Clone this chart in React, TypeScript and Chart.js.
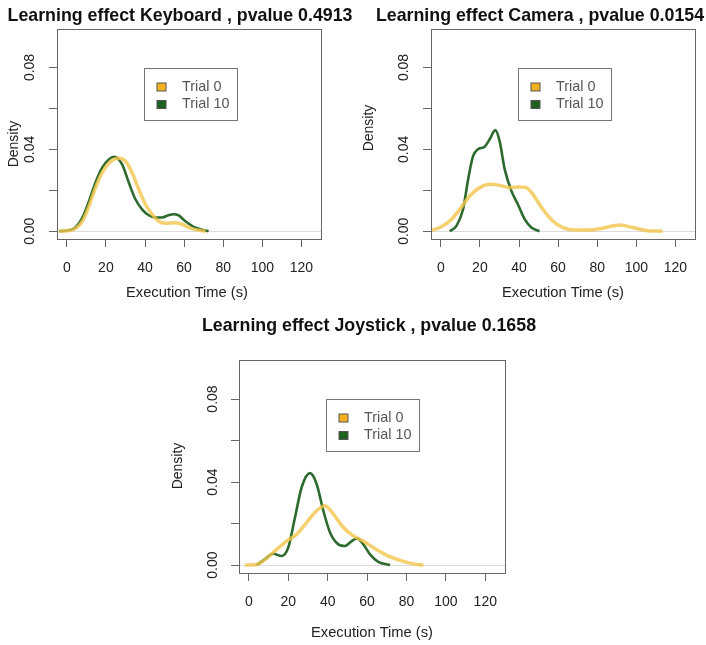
import React, { useEffect, useRef } from 'react';
import { Chart, registerables } from 'chart.js';

Chart.register(...registerables);

// ---------- data ----------
const xTickValues = [0, 20, 40, 60, 80, 100, 120];
const yTickValues = [0, 0.02, 0.04, 0.06, 0.08];
const yTickLabels = ['0.00', '', '0.04', '', '0.08'];
const seriesLabels = ['Trial 0', 'Trial 10'];
const panelTitles = [
  'Learning effect Keyboard , pvalue 0.4913',
  'Learning effect Camera , pvalue 0.0154',
  'Learning effect Joystick , pvalue 0.1658',
];
const xAxisTitle = 'Execution Time (s)';
const yAxisTitle = 'Density';

const keyboardTrial0X = [-4, 3, 8, 11.4, 14.7, 18.1, 21.5, 26.6, 30, 33.4, 36.8, 40.2, 43.6, 46.9, 50.3, 55.4, 58.8, 63.9, 71];
const keyboardTrial0Y = [0, 0.0007, 0.005, 0.0124, 0.0213, 0.0286, 0.0332, 0.0356, 0.0342, 0.0286, 0.0205, 0.0132, 0.0083, 0.005, 0.0039, 0.0042, 0.0034, 0.0013, 0];
const keyboardTrial10X = [-4, 3, 8, 11.4, 14.7, 18.1, 21.5, 24.1, 28.3, 31.7, 35.1, 38.5, 41.9, 45.2, 48.7, 52, 54.6, 57.1, 60.5, 65.6, 72.5];
const keyboardTrial10Y = [0, 0.001, 0.0067, 0.0148, 0.0238, 0.031, 0.0351, 0.0364, 0.0327, 0.0238, 0.0156, 0.0107, 0.0078, 0.0067, 0.0067, 0.0078, 0.0083, 0.0078, 0.005, 0.0018, 0];

const cameraTrial0X = [-5, -0.5, 4.6, 9.7, 14.8, 19.9, 25, 30.1, 35.2, 40.3, 43.7, 47.1, 52.2, 57.3, 62.4, 69.2, 76, 82.8, 91.3, 98.1, 104.9, 113.4];
const cameraTrial0Y = [0.0003, 0.0018, 0.005, 0.0107, 0.0172, 0.0213, 0.0229, 0.0224, 0.0213, 0.0216, 0.0213, 0.018, 0.0107, 0.005, 0.0018, 0.0006, 0.0006, 0.0015, 0.003, 0.0018, 0.0004, 0];
const cameraTrial10X = [4.6, 8, 11.4, 14, 16.5, 19, 22.4, 25, 27.9, 30.1, 32.7, 36.1, 39.4, 42.9, 46.3, 50.5];
const cameraTrial10Y = [0, 0.0026, 0.0107, 0.0254, 0.0367, 0.04, 0.0413, 0.0449, 0.0494, 0.044, 0.0302, 0.0197, 0.0132, 0.0059, 0.0018, 0];

const joystickTrial0X = [-2, 3.9, 9, 14.1, 19.2, 24.3, 29.3, 34.4, 38.6, 42.9, 48, 53, 58.1, 63.2, 70, 76.8, 83.5, 88.6];
const joystickTrial0Y = [0, 0.0003, 0.0032, 0.0076, 0.0116, 0.0149, 0.0205, 0.0262, 0.0286, 0.0246, 0.0181, 0.0141, 0.0116, 0.0084, 0.0047, 0.0023, 0.0006, 0];
const joystickTrial10X = [3.9, 8.1, 12.4, 16.6, 20, 23.4, 26.8, 31, 34.4, 37.8, 41.2, 45.4, 48.8, 52.2, 54.8, 58.1, 61.5, 65.7, 71.7];
const joystickTrial10Y = [0, 0.0028, 0.0055, 0.0044, 0.0084, 0.0229, 0.0375, 0.0443, 0.0391, 0.0262, 0.0157, 0.01, 0.0092, 0.0116, 0.0128, 0.01, 0.0052, 0.0016, 0];

// ---------- styles / layout ----------
const FONT = '"Liberation Sans", Arial, Helvetica, sans-serif';
const W = 706;
const H = 645;
const X_MIN = -5;
const X_MAX = 130;
const Y_MIN = -0.0038;
const Y_MAX = 0.0988;
const TICK_LEN = 8;
const X_AXIS_H = 40;
const LINE_T0 = 'rgba(241,196,74,0.8)';
const LINE_T10 = '#2d6a2d';
const FILL_T0 = '#f3b01f';
const FILL_T10 = '#1f5f1f';

type Layout = {
  area: { left: number; top: number; right: number; bottom: number };
  titleX: number;
  titleY: number;
  xTitleX: number;
  xTitleY: number;
  yTitleX: number;
  yTitleY: number;
  yLabelX: number;
};

const layouts: Layout[] = [
  { area: { left: 57, top: 29, right: 321, bottom: 239 }, titleX: 180, titleY: 21, xTitleX: 187, xTitleY: 293, yTitleX: 14, yTitleY: 144, yLabelX: 30 },
  { area: { left: 431, top: 29, right: 695, bottom: 239 }, titleX: 540, titleY: 21, xTitleX: 563, xTitleY: 293, yTitleX: 369, yTitleY: 128, yLabelX: 404 },
  { area: { left: 239, top: 360, right: 505, bottom: 573 }, titleX: 369, titleY: 331, xTitleX: 372, xTitleY: 633, yTitleX: 178, yTitleY: 466, yLabelX: 213 },
];

const seriesData = [
  [[keyboardTrial0X, keyboardTrial0Y], [keyboardTrial10X, keyboardTrial10Y]],
  [[cameraTrial0X, cameraTrial0Y], [cameraTrial10X, cameraTrial10Y]],
  [[joystickTrial0X, joystickTrial0Y], [joystickTrial10X, joystickTrial10Y]],
];

const rPlot = {
  id: 'rPlot',
  beforeDatasetsDraw(chart: any) {
    const { ctx, chartArea: a } = chart;
    const y = chart.scales.y;
    const y0 = Math.round(y.getPixelForValue(0)) + 0.5;
    ctx.save();
    ctx.strokeStyle = '#dcdcdc';
    ctx.lineWidth = 1;
    ctx.beginPath();
    ctx.moveTo(a.left, y0);
    ctx.lineTo(a.right, y0);
    ctx.stroke();
    ctx.restore();
  },
  afterDraw(chart: any, _args: any, opts: any) {
    const { ctx, chartArea: a } = chart;
    const y = chart.scales.y;
    ctx.save();
    // box
    ctx.strokeStyle = '#666';
    ctx.lineWidth = 1;
    ctx.strokeRect(Math.round(a.left) + 0.5, Math.round(a.top) + 0.5, Math.round(a.right - a.left), Math.round(a.bottom - a.top));

    // y tick labels (rotated)
    ctx.fillStyle = '#222';
    ctx.font = `14px ${FONT}`;
    ctx.textAlign = 'center';
    ctx.textBaseline = 'middle';
    y.ticks.forEach((t: any, i: number) => {
      const lab = yTickLabels[i];
      if (!lab) return;
      const py = y.getPixelForValue(t.value);
      ctx.save();
      ctx.translate(opts.yLabelX, py);
      ctx.rotate(-Math.PI / 2);
      ctx.fillText(lab, 0, 0);
      ctx.restore();
    });

    // y axis title
    ctx.save();
    ctx.translate(opts.yTitleX, opts.yTitleY);
    ctx.rotate(-Math.PI / 2);
    ctx.fillStyle = '#222';
    ctx.font = `14px ${FONT}`;
    ctx.fillText(yAxisTitle, 0, 0);
    ctx.restore();

    // x axis title
    ctx.fillStyle = '#222';
    ctx.font = `14.7px ${FONT}`;
    ctx.fillText(xAxisTitle, opts.xTitleX, opts.xTitleY);

    // main title
    ctx.fillStyle = '#111';
    ctx.font = `bold 17.8px ${FONT}`;
    ctx.textBaseline = 'alphabetic';
    ctx.fillText(opts.title, opts.titleX, opts.titleY);

    // legend
    const lx = Math.round(a.left + 87) + 0.5;
    const ly = Math.round(a.top + 39) + 0.5;
    ctx.strokeStyle = '#777';
    ctx.lineWidth = 1;
    ctx.strokeRect(lx, ly, 93, 52);
    const fills = [FILL_T0, FILL_T10];
    chart.data.datasets.forEach((ds: any, i: number) => {
      const cy = a.top + 39 + 19 + i * 17.5;
      ctx.fillStyle = fills[i];
      ctx.fillRect(lx + 12.5, cy - 4, 9, 8);
      ctx.strokeStyle = '#555';
      ctx.strokeRect(lx + 12.5, cy - 4, 9, 8);
      ctx.fillStyle = '#555';
      ctx.font = `14.4px ${FONT}`;
      ctx.textAlign = 'left';
      ctx.textBaseline = 'middle';
      ctx.fillText(ds.label, lx + 37.5, cy);
    });
    ctx.restore();
  },
};

function Panel({ index }: { index: number }) {
  const ref = useRef<HTMLCanvasElement>(null);
  useEffect(() => {
    const L = layouts[index];
    const d = seriesData[index];
    const mk = (xs: number[], ys: number[]) => xs.map((x, i) => ({ x, y: ys[i] }));
    const chart = new Chart(ref.current as HTMLCanvasElement, {
      type: 'line',
      data: {
        datasets: [
          {
            label: seriesLabels[0],
            data: mk(d[0][0], d[0][1]),
            borderColor: LINE_T0,
            borderWidth: 3.5,
            pointRadius: 0,
            cubicInterpolationMode: 'monotone',
            fill: false,
          },
          {
            label: seriesLabels[1],
            data: mk(d[1][0], d[1][1]),
            borderColor: LINE_T10,
            borderWidth: 2.6,
            pointRadius: 0,
            cubicInterpolationMode: 'monotone',
            fill: false,
          },
        ],
      },
      options: {
        responsive: false,
        animation: false,
        events: [],
        layout: {
          padding: {
            left: L.area.left - TICK_LEN,
            top: L.area.top,
            right: W - L.area.right,
            bottom: H - L.area.bottom - X_AXIS_H,
          },
        },
        scales: {
          x: {
            type: 'linear',
            min: X_MIN,
            max: X_MAX,
            afterBuildTicks: (s: any) => {
              s.ticks = xTickValues.map((v) => ({ value: v }));
            },
            afterFit: (s: any) => {
              s.height = X_AXIS_H;
            },
            border: { display: false },
            grid: { display: true, drawOnChartArea: false, drawTicks: true, tickLength: TICK_LEN, color: '#666', lineWidth: 1 },
            ticks: {
              autoSkip: false,
              maxRotation: 0,
              minRotation: 0,
              padding: 13,
              color: '#222',
              font: { family: FONT, size: 14 },
              callback: (v: any) => String(v),
            },
          },
          y: {
            type: 'linear',
            min: Y_MIN,
            max: Y_MAX,
            afterBuildTicks: (s: any) => {
              s.ticks = yTickValues.map((v) => ({ value: v }));
            },
            afterFit: (s: any) => {
              s.width = TICK_LEN;
            },
            border: { display: false },
            grid: { display: true, drawOnChartArea: false, drawTicks: true, tickLength: TICK_LEN, color: '#666', lineWidth: 1 },
            ticks: { display: false },
          },
        },
        plugins: {
          legend: { display: false },
          title: { display: false },
          tooltip: { enabled: false },
          rPlot: { ...L, title: panelTitles[index] },
        } as any,
      },
      plugins: [rPlot],
    } as any);
    return () => chart.destroy();
  }, [index]);
  return (
    <canvas
      ref={ref}
      width={W}
      height={H}
      style={{ position: 'absolute', left: 0, top: 0, width: W, height: H }}
    />
  );
}

export default function App() {
  return (
    <div style={{ position: 'absolute', left: 0, top: 0, width: W, height: H, background: '#fff', overflow: 'hidden' }}>
      <Panel index={0} />
      <Panel index={1} />
      <Panel index={2} />
    </div>
  );
}
